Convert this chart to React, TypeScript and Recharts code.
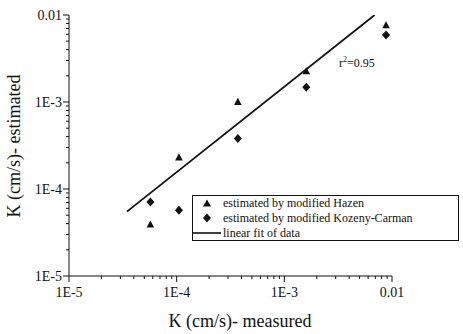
import React from "react";
import {
  ComposedChart,
  XAxis,
  YAxis,
  Scatter,
  Line,
  Customized,
} from "recharts";

// Measured vs. estimated hydraulic conductivity, K (cm/s)
const measuredK = [5.7e-5, 1.05e-4, 3.7e-4, 1.6e-3, 8.8e-3];
const hazenK = [3.9e-5, 2.3e-4, 1.0e-3, 2.25e-3, 7.6e-3];
const kozenyCarmanK = [7.1e-5, 5.7e-5, 3.8e-4, 1.48e-3, 5.9e-3];

// End points of the linear fit (log-log)
const fitX = [3.45e-5, 6.9e-3];
const fitY = [5.5e-5, 1.0e-2];

const rSquared = "0.95";

// Axis decades and labels
const decades = [1e-5, 1e-4, 1e-3, 1e-2];
const decadeLabels = ["1E-5", "1E-4", "1E-3", "0.01"];
const minorMultipliers = [2, 3, 4, 5, 6, 7, 8, 9];

const logTicks: number[] = [];
decades.forEach((d, i) => {
  logTicks.push(d);
  if (i < decades.length - 1) minorMultipliers.forEach((m) => logTicks.push(m * d));
});

const hazenData = measuredK.map((x, i) => ({ x, y: hazenK[i] }));
const kcData = measuredK.map((x, i) => ({ x, y: kozenyCarmanK[i] }));
const fitData = fitX.map((x, i) => ({ x, y: fitY[i] }));

const FONT = '"Liberation Serif", "Times New Roman", serif';
const INK = "#111";
const serif = { fontFamily: FONT };

const decadeIndex = (v: number) => {
  const l = Math.log10(v);
  const r = Math.round(l);
  if (Math.abs(l - r) > 1e-6) return -1;
  return decades.findIndex((d) => Math.abs(Math.log10(d) - r) < 1e-6);
};

const YTick = (props: any) => {
  const { x, y, payload } = props;
  const idx = decadeIndex(payload.value);
  const major = idx >= 0;
  return (
    <g>
      <line x1={x} x2={x - (major ? 6 : 3)} y1={y} y2={y} stroke={INK} strokeWidth={1} />
      {major && (
        <text x={x - 7} y={y + 5} textAnchor="end" style={serif} fontSize={14} fill={INK}>
          {decadeLabels[idx]}
        </text>
      )}
    </g>
  );
};

const XTick = (props: any) => {
  const { x, y, payload } = props;
  const idx = decadeIndex(payload.value);
  const major = idx >= 0;
  return (
    <g>
      <line x1={x} x2={x} y1={y} y2={y + (major ? 6 : 3)} stroke={INK} strokeWidth={1} />
      {major && (
        <text x={x} y={y + 21} textAnchor="middle" style={serif} fontSize={14} fill={INK}>
          {decadeLabels[idx]}
        </text>
      )}
    </g>
  );
};

const Triangle = (props: any) => {
  const { cx, cy } = props;
  return (
    <polygon
      points={`${cx},${cy - 4.2} ${cx + 3.8},${cy + 3} ${cx - 3.8},${cy + 3}`}
      fill={INK}
    />
  );
};

const Diamond = (props: any) => {
  const { cx, cy } = props;
  return (
    <polygon
      points={`${cx},${cy - 4.5} ${cx + 4},${cy} ${cx},${cy + 4.5} ${cx - 4},${cy}`}
      fill={INK}
    />
  );
};

const Decorations = () => (
  <g style={serif} fill={INK}>
    {/* axis titles */}
    <text x={240} y={327} textAnchor="middle" fontSize={18} style={serif}>
      K (cm/s)- measured
    </text>
    <text
      x={0}
      y={0}
      transform="translate(20,146) rotate(-90)"
      textAnchor="middle"
      fontSize={18}
      style={serif}
    >
      K (cm/s)- estimated
    </text>

    {/* goodness of fit */}
    <text x={339} y={67} fontSize={12} style={serif}>
      r
      <tspan dy={-5} fontSize={8}>2</tspan>
      <tspan dy={5}>={rSquared}</tspan>
    </text>

    {/* legend */}
    <rect x={192.5} y={195.5} width={266} height={45} fill="#fff" stroke={INK} strokeWidth={1} />
    <polygon points="207,199.5 211,206.5 203,206.5" fill={INK} />
    <polygon points="207,213.5 211,218 207,222.5 203,218" fill={INK} />
    <line x1={192} x2={221} y1={233} y2={233} stroke={INK} strokeWidth={1.6} />
    <text x={223} y={207} fontSize={12} style={serif}>estimated by modified Hazen</text>
    <text x={223} y={222} fontSize={12} style={serif}>estimated by modified Kozeny-Carman</text>
    <text x={223} y={237} fontSize={12} style={serif}>linear fit of data</text>
  </g>
);

export default function App() {
  return (
    <div style={{ position: "absolute", left: 0, top: 0, background: "#fff" }}>
      <ComposedChart
        width={463}
        height={334}
        margin={{ top: 15, right: 71, bottom: 0, left: 0 }}
      >
        <XAxis
          dataKey="x"
          type="number"
          scale="log"
          domain={[1e-5, 1e-2]}
          allowDataOverflow
          ticks={logTicks}
          interval={0}
          tickSize={0}
          tickMargin={0}
          tick={<XTick />}
          height={58}
          axisLine={{ stroke: INK, strokeWidth: 1 }}
        />
        <YAxis
          dataKey="y"
          type="number"
          scale="log"
          domain={[1e-5, 1e-2]}
          allowDataOverflow
          ticks={logTicks}
          interval={0}
          tickSize={0}
          tickMargin={0}
          tick={<YTick />}
          width={69}
          axisLine={{ stroke: INK, strokeWidth: 1 }}
        />
        <Line
          data={fitData}
          dataKey="y"
          stroke={INK}
          strokeWidth={1.8}
          dot={false}
          activeDot={false}
          type="linear"
          isAnimationActive={false}
        />
        <Scatter data={hazenData} dataKey="y" shape={<Triangle />} isAnimationActive={false} />
        <Scatter data={kcData} dataKey="y" shape={<Diamond />} isAnimationActive={false} />
        <Customized component={Decorations} />
      </ComposedChart>
    </div>
  );
}
